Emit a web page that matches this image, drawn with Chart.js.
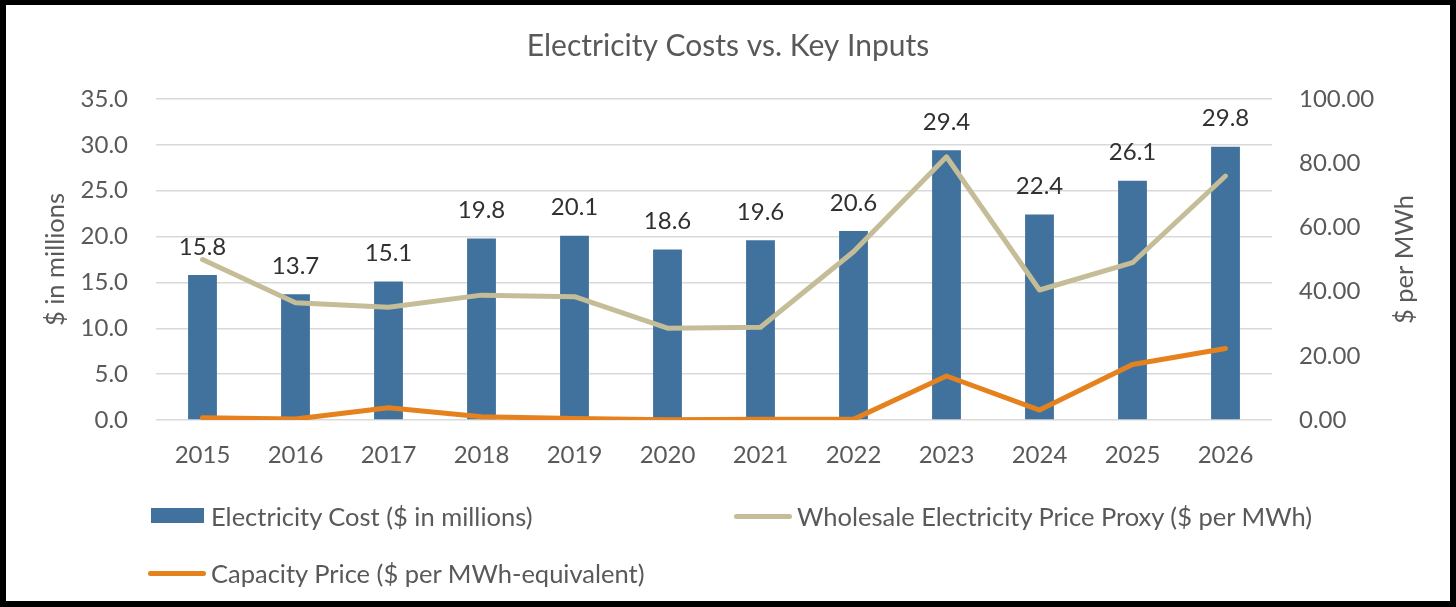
<!DOCTYPE html>
<html>
<head>
<meta charset="utf-8">
<title>Electricity Costs vs. Key Inputs</title>
<script src="https://cdn.jsdelivr.net/npm/chart.js@4.4.1/dist/chart.umd.min.js"></script>
<style>
  html, body { margin: 0; padding: 0; background: #fff; }
  #frame { position: relative; width: 1456px; height: 607px; overflow: hidden; background: #fff; }
  #frame canvas { position: absolute; left: 0; top: 0; }
  #border {
    position: absolute; left: 0; top: 0; width: 1456px; height: 607px;
    box-sizing: border-box; border: 6px solid #000; border-top-width: 5px;
    pointer-events: none;
  }
  .legend-mark { position: absolute; }
  .legend-text {
    position: absolute; font: 25.5px Lato, sans-serif; color: #595959;
    white-space: nowrap; line-height: 30px;
  }
</style>
</head>
<body>
<div id="frame">
  <canvas id="costChart" width="1456" height="607"></canvas>
  <div id="legend"></div>
  <div id="border"></div>
</div>

<script>
/* ======================================================
   Data
=========================================================*/
const years = ["2015", "2016", "2017", "2018", "2019", "2020", "2021", "2022", "2023", "2024", "2025", "2026"];

// $ in millions (left axis)
const electricityCost = [15.8, 13.7, 15.1, 19.8, 20.1, 18.6, 19.6, 20.6, 29.4, 22.4, 26.1, 29.8];

// $ per MWh (right axis)
const wholesalePrice = [50.0, 36.5, 35.1, 38.9, 38.4, 28.6, 28.9, 52.4, 82.0, 40.5, 49.0, 76.0];
const capacityPrice = [0.7, 0.3, 3.8, 1.0, 0.5, 0.1, 0.2, 0.2, 13.7, 3.1, 17.3, 22.3];

const seriesNames = [
  "Electricity Cost ($ in millions)",
  "Wholesale Electricity Price Proxy ($ per MWh)",
  "Capacity Price ($ per MWh-equivalent)",
];

// axis ranges and titles
const leftAxis = { min: 0, max: 35, step: 5, title: "$ in millions" };
const rightAxis = { min: 0, max: 100, step: 20, title: "$ per MWh" };

/* ======================================================
   Styles
=========================================================*/
const FONT = "Lato, sans-serif";
const TEXT_GREY = "#595959";
const COLORS = ["#41729E", "#C4BD97", "#E6821E"];

/* ======================================================
   Plugin: bar value labels (outside end)
=========================================================*/
const barValueLabels = {
  id: "barValueLabels",
  afterDatasetsDraw(chart) {
    const ctx = chart.ctx;
    const meta = chart.getDatasetMeta(0);
    const values = chart.data.datasets[0].data;
    ctx.save();
    ctx.font = "24px " + FONT;
    ctx.fillStyle = "#303030";
    ctx.textAlign = "center";
    ctx.textBaseline = "middle";
    meta.data.forEach((bar, i) => {
      ctx.fillText(values[i].toFixed(1), bar.x, bar.y - 28);
    });
    ctx.restore();
  },
};

/* ======================================================
   Plugin: right axis title, read bottom-to-top like Excel
=========================================================*/
const rightAxisTitle = {
  id: "rightAxisTitle",
  afterDraw(chart) {
    const ctx = chart.ctx;
    const scale = chart.scales.y1;
    const area = chart.chartArea;
    ctx.save();
    ctx.translate(scale.right - 51, (area.top + area.bottom) / 2);
    ctx.rotate(-Math.PI / 2);
    ctx.font = "25.5px " + FONT;
    ctx.fillStyle = TEXT_GREY;
    ctx.textAlign = "center";
    ctx.textBaseline = "middle";
    ctx.fillText(rightAxis.title, 0, 0);
    ctx.restore();
  },
};

/* ======================================================
   Chart
=========================================================*/
const chart = new Chart(document.getElementById("costChart"), {
  type: "bar",
  data: {
    labels: years,
    datasets: [
      {
        type: "bar",
        label: seriesNames[0],
        data: electricityCost,
        backgroundColor: COLORS[0],
        barPercentage: 0.31,
        categoryPercentage: 1,
        yAxisID: "y",
        order: 3,
      },
      {
        type: "line",
        label: seriesNames[1],
        data: wholesalePrice,
        borderColor: COLORS[1],
        backgroundColor: COLORS[1],
        borderWidth: 5,
        borderCapStyle: "round",
        borderJoinStyle: "round",
        pointRadius: 0,
        tension: 0,
        yAxisID: "y1",
        order: 2,
      },
      {
        type: "line",
        label: seriesNames[2],
        data: capacityPrice,
        borderColor: COLORS[2],
        backgroundColor: COLORS[2],
        borderWidth: 5,
        borderCapStyle: "round",
        borderJoinStyle: "round",
        pointRadius: 0,
        tension: 0,
        yAxisID: "y1",
        order: 1,
      },
    ],
  },
  options: {
    responsive: false,
    animation: false,
    devicePixelRatio: 1,
    layout: { padding: { left: 0, right: 0, top: 0, bottom: 127 } },
    plugins: {
      legend: { display: false },
      tooltip: { enabled: false },
      title: {
        display: true,
        text: "Electricity Costs vs. Key Inputs",
        color: TEXT_GREY,
        font: { family: FONT, size: 30, weight: "normal" },
        padding: { top: 28, bottom: 35 },
      },
    },
    scales: {
      x: {
        offset: true,
        grid: { display: false, drawTicks: false },
        border: { display: false },
        ticks: { color: TEXT_GREY, font: { family: FONT, size: 24 }, padding: 21 },
        afterFit(scale) { scale.height = 60; },
      },
      y: {
        position: "left",
        min: leftAxis.min,
        max: leftAxis.max,
        grid: { color: "#D9D9D9", lineWidth: 1.5, drawTicks: false },
        border: { display: false },
        ticks: {
          stepSize: leftAxis.step,
          color: TEXT_GREY,
          font: { family: FONT, size: 24 },
          padding: 28,
          callback: (v) => v.toFixed(1),
        },
        title: {
          display: true,
          text: leftAxis.title,
          color: TEXT_GREY,
          font: { family: FONT, size: 25.5 },
          padding: { top: 40, bottom: 0 },
        },
        afterFit(scale) { scale.width = 156; },
      },
      y1: {
        position: "right",
        min: rightAxis.min,
        max: rightAxis.max,
        grid: { display: false, drawTicks: false },
        border: { display: false },
        ticks: {
          stepSize: rightAxis.step,
          color: TEXT_GREY,
          font: { family: FONT, size: 24 },
          padding: 27,
          callback: (v) => v.toFixed(2),
        },
        title: { display: false },
        afterFit(scale) { scale.width = 1456 - 1272; },
      },
    },
  },
  plugins: [barValueLabels, rightAxisTitle],
});

/* ======================================================
   HTML legend (two columns, like the Excel original)
=========================================================*/
const legendSlots = [
  { markLeft: 151, textLeft: 211, centerY: 516 },
  { markLeft: 734, textLeft: 797, centerY: 516 },
  { markLeft: 148, textLeft: 211, centerY: 573 },
];

function renderLegend(ch) {
  const box = document.getElementById("legend");
  box.innerHTML = "";
  ch.data.datasets.forEach((ds, i) => {
    const slot = legendSlots[i];
    const mark = document.createElement("div");
    mark.className = "legend-mark";
    if (ds.type === "bar") {
      Object.assign(mark.style, {
        left: slot.markLeft + "px", top: slot.centerY - 8 + "px",
        width: "53px", height: "15px", background: ds.backgroundColor,
      });
    } else {
      Object.assign(mark.style, {
        left: slot.markLeft + "px", top: slot.centerY - 2.5 + "px",
        width: "58px", height: "5px", borderRadius: "3px", background: ds.borderColor,
      });
    }
    const text = document.createElement("div");
    text.className = "legend-text";
    text.textContent = ds.label;
    text.style.left = slot.textLeft + "px";
    text.style.top = slot.centerY - 15 + "px";
    box.appendChild(mark);
    box.appendChild(text);
  });
}

renderLegend(chart);
</script>
</body>
</html>
